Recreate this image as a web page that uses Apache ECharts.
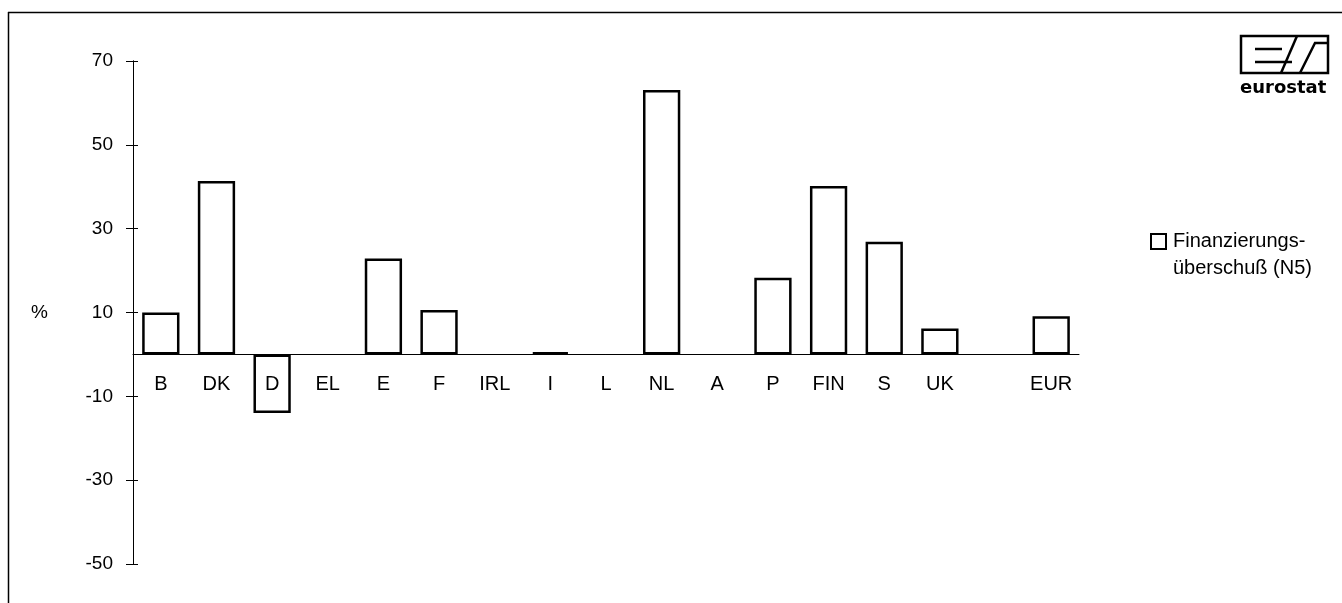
<!DOCTYPE html>
<html>
<head>
<meta charset="utf-8">
<script src="https://cdn.jsdelivr.net/npm/echarts@6/dist/echarts.min.js"></script>
<style>
html,body{margin:0;padding:0;background:#fff;}
#main{width:1342px;height:603px;}
</style>
</head>
<body>
<div id="main"></div>
<script>
var categories = ['B','DK','D','EL','E','F','IRL','I','L','NL','A','P','FIN','S','UK','','EUR'];
var values = [10, 41.4, -14, 0, 22.9, 10.6, 0, 0.5, 0, 63.1, 0, 18.3, 40.2, 26.9, 6.2, null, 9.1];
var seriesName = 'Finanzierungs-\nüberschuß (N5)';
var yMin = -50, yMax = 70, yInterval = 20;

var FONT = '"Liberation Sans", Arial, sans-serif';
var W = 1342, H = 603;
var GRID = {left: 133, right: 263, top: 61, bottom: 39};
var gridH = H - GRID.top - GRID.bottom;
var zeroOffset = -gridH * (0 - yMin) / (yMax - yMin);

var chart = echarts.init(document.getElementById('main'));
var yCommon = {
  type: 'value', min: yMin, max: yMax, interval: yInterval,
  splitLine: {show: false},
  axisLine: {show: true, lineStyle: {color: '#000', width: 1}}
};
var barData = values.map(function (v) {
  return v === 0 ? {value: 0, itemStyle: {borderWidth: 0}} : v;
});
chart.setOption({
  animation: false,
  backgroundColor: '#fff',
  textStyle: {fontFamily: FONT, color: '#000'},
  grid: [GRID, Object.assign({}, GRID)],
  legend: {
    left: 1150, top: 201, padding: 0,
    orient: 'vertical',
    icon: 'rect', itemWidth: 15, itemHeight: 15,
    formatter: function (n) { return '\n' + n; },
    textStyle: {fontFamily: FONT, fontSize: 20, color: '#000', lineHeight: 27, padding: [0, 0, 0, 2]},
    data: [seriesName]
  },
  xAxis: [{
    type: 'category', data: categories, z: 5, gridIndex: 0,
    position: 'bottom', offset: zeroOffset,
    axisLine: {onZero: false, lineStyle: {color: '#000', width: 1}},
    axisTick: {show: false},
    axisLabel: {color: '#000', fontSize: 20, fontFamily: FONT, margin: 20, interval: 0}
  }, {
    type: 'category', data: categories, gridIndex: 1, show: false
  }],
  yAxis: [
    Object.assign({}, yCommon, {
      gridIndex: 0, position: 'left',
      name: '%', nameLocation: 'middle', nameRotate: 0, nameGap: 85,
      nameTextStyle: {fontSize: 19, color: '#000', fontFamily: FONT},
      axisTick: {show: true, length: 7, lineStyle: {color: '#000'}},
      axisLabel: {color: '#000', fontSize: 19, fontFamily: FONT, margin: 20}
    }),
    Object.assign({}, yCommon, {
      gridIndex: 1, position: 'left',
      axisTick: {show: true, inside: true, length: 5, lineStyle: {color: '#000'}},
      axisLabel: {show: false}
    })
  ],
  series: [{
    name: seriesName, type: 'bar', data: barData,
    xAxisIndex: 0, yAxisIndex: 0,
    barCategoryGap: '33%',
    itemStyle: {color: '#fff', borderColor: '#000', borderWidth: 2.5}
  }, {
    name: 'ticks', type: 'line', xAxisIndex: 1, yAxisIndex: 1, data: [], silent: true, showSymbol: false
  }],
  graphic: [
    {type: 'line', shape: {x1: 8, y1: 12.5, x2: 1342, y2: 12.5}, style: {stroke: '#000', lineWidth: 1.5}},
    {type: 'line', shape: {x1: 8.5, y1: 12, x2: 8.5, y2: 603}, style: {stroke: '#000', lineWidth: 1.5}},
    {type: 'group', children: [
      {type: 'rect', shape: {x: 1241, y: 36, width: 87, height: 37}, style: {fill: 'none', stroke: '#000', lineWidth: 2.5}},
      {type: 'polyline', shape: {points: [[1255, 49], [1282, 49]]}, style: {stroke: '#000', lineWidth: 2.5, fill: 'none'}},
      {type: 'polyline', shape: {points: [[1255, 62], [1292, 62]]}, style: {stroke: '#000', lineWidth: 2.5, fill: 'none'}},
      {type: 'polyline', shape: {points: [[1281, 73], [1297, 36]]}, style: {stroke: '#000', lineWidth: 2.5, fill: 'none'}},
      {type: 'polyline', shape: {points: [[1300, 73], [1315, 43], [1328, 43]]}, style: {stroke: '#000', lineWidth: 2.5, fill: 'none'}},
      {type: 'text', x: 1240, y: 79, style: {text: 'eurostat', font: 'bold 18px "DejaVu Sans"', fill: '#000'}}
    ]}
  ]
});
</script>
</body>
</html>
